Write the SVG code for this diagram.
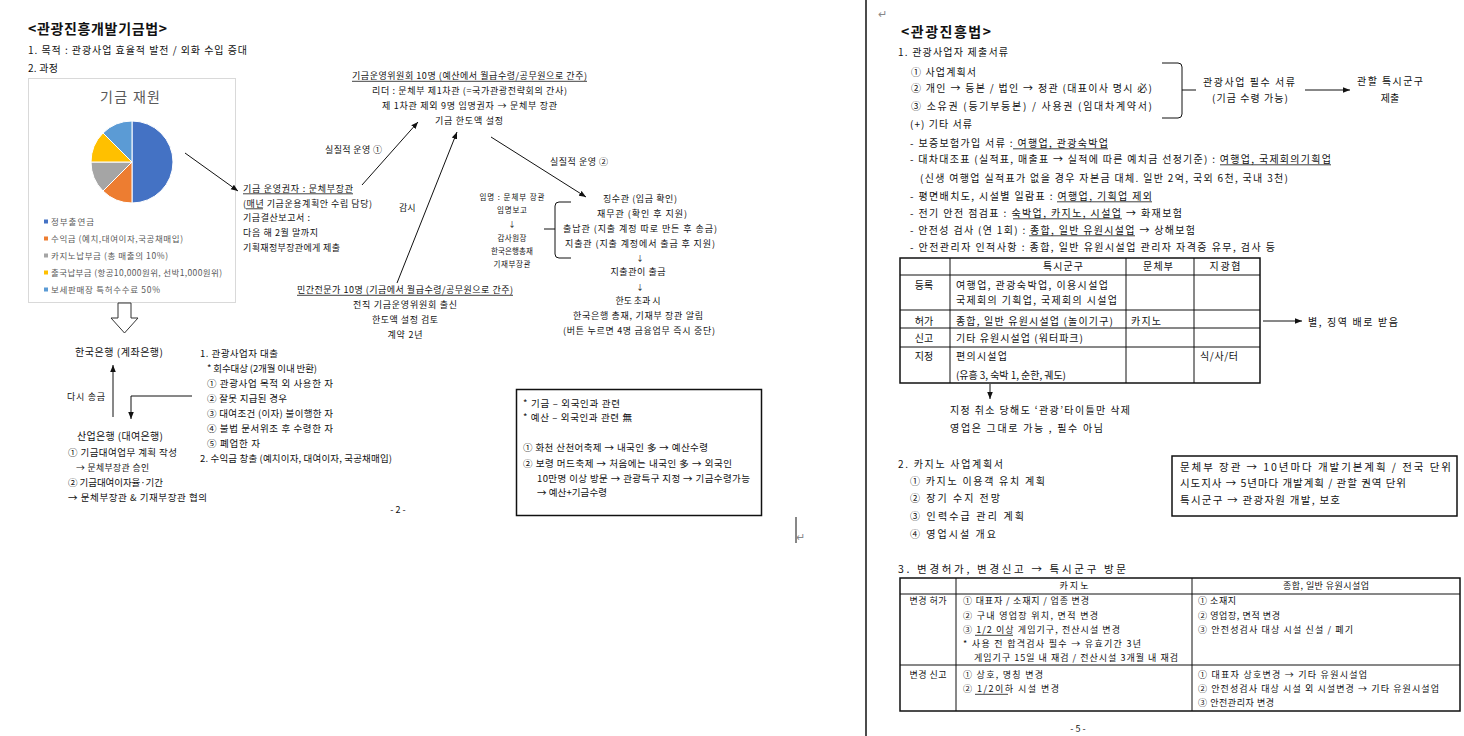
<svg xmlns="http://www.w3.org/2000/svg" width="1464" height="736" viewBox="0 0 1464 736">
<style>
text{font-family:"Noto Sans CJK KR","Noto Sans",sans-serif;fill:#111}
.h{font-size:14px;font-weight:bold}
.l{font-size:10px}
.b{font-size:9px}
.b2{font-size:9.5px}
.r{font-size:10px}
.sm{font-size:7.5px}
.lg{font-size:8.5px;fill:#595959}
.t3{font-size:9px}
.tb{font-size:10px}
.m{text-anchor:middle}
.ln{stroke:#111;stroke-width:1;fill:none}
.ul{stroke:#111;stroke-width:0.8;fill:none}
.bx{stroke:#111;stroke-width:1.5;fill:none}
.gray{fill:#888}
</style>
<defs>
<marker id="ah" viewBox="0 0 10 10" refX="10" refY="5" markerWidth="7" markerHeight="7" markerUnits="userSpaceOnUse" orient="auto"><path d="M0,1 L10,5 L0,9 z" fill="#111"/></marker>
</defs>
<rect width="1464" height="736" fill="#fff"/>
<line x1="866" y1="0" x2="866" y2="736" stroke="#111" stroke-width="1.5"/>

<!-- LEFT PAGE -->
<g id="left-header">
<text x="28" y="34" class="h" textLength="139">&lt;관광진흥개발기금법&gt;</text>
<text x="28" y="54" class="l" textLength="219">1. 목적 : 관광사업 효율적 발전 / 외화 수입 증대</text>
<text x="28" y="72" class="l" textLength="30">2. 과정</text>
</g>

<g id="chart">
<rect x="28.5" y="78.5" width="207" height="224" fill="#fff" stroke="#d9d9d9"/>
<text x="130" y="102" class="m" style="font-size:14px;fill:#595959" textLength="60">기금 재원</text>
<g stroke="#fff" stroke-width="1">
<path d="M132,162 L132,121 A41,41 0 0,1 132,203 Z" fill="#4472C4"/>
<path d="M132,162 L132,203 A41,41 0 0,1 103,191 Z" fill="#ED7D31"/>
<path d="M132,162 L103,191 A41,41 0 0,1 91,162 Z" fill="#A5A5A5"/>
<path d="M132,162 L91,162 A41,41 0 0,1 103,133 Z" fill="#FFC000"/>
<path d="M132,162 L103,133 A41,41 0 0,1 132,121 Z" fill="#5B9BD5"/>
</g>
<rect x="44" y="219.5" width="4" height="4" fill="#4472C4"/>
<text x="51" y="225" class="lg" textLength="43">정부출연금</text>
<rect x="44" y="236.5" width="4" height="4" fill="#ED7D31"/>
<text x="51" y="242" class="lg" textLength="132">수익금 (예치,대여이자,국공채매입)</text>
<rect x="44" y="253.5" width="4" height="4" fill="#A5A5A5"/>
<text x="51" y="259" class="lg" textLength="117">카지노납부금 (총 매출의 10%)</text>
<rect x="44" y="270.5" width="4" height="4" fill="#FFC000"/>
<text x="51" y="276" class="lg" textLength="171">출국납부금 (항공10,000원위, 선박1,000원위)</text>
<rect x="44" y="287.5" width="4" height="4" fill="#5B9BD5"/>
<text x="51" y="293" class="lg" textLength="109">보세판매장 특허수수료 50%</text>
</g>

<g id="owner">
<text x="243" y="191.5" class="b" textLength="110">기금 운영권자 : 문체부장관</text>
<text x="243" y="206.5" class="b" textLength="129">(매년 기금운용계획안 수립 담당)</text>
<text x="243" y="220.5" class="b" textLength="67">기금결산보고서 :</text>
<text x="243" y="235.5" class="b" textLength="75">다음 해 2월 말까지</text>
<text x="243" y="250.5" class="b" textLength="97">기획재정부장관에게 제출</text>
<path class="ul" d="M243,193.8 H353 M246,208.8 H263"/>
</g>

<g id="committee">
<text x="469.5" y="79" class="b m" textLength="235">기금운영위원회 10명 (예산에서 월급수령/공무원으로 간주)</text>
<text x="469.5" y="94" class="b m" textLength="195">리더 : 문체부 제1차관 (=국가관광전략회의 간사)</text>
<text x="469.5" y="109" class="b m" textLength="175">제 1차관 제외 9명 임명권자 → 문체부 장관</text>
<text x="469" y="124" class="b m" textLength="68">기금 한도액 설정</text>
<path class="ul" d="M352,81.3 H587"/>
</g>

<g id="experts">
<text x="405" y="293" class="b m" textLength="216">민간전문가 10명 (기금에서 월급수령/공무원으로 간주)</text>
<text x="405" y="308" class="b m" textLength="104">전직 기금운영위원회 출신</text>
<text x="405" y="323" class="b m" textLength="66">한도액 설정 검토</text>
<text x="405" y="338" class="b m" textLength="35">계약 2년</text>
<path class="ul" d="M297,295.3 H513"/>
</g>

<g id="appoint">
<text x="512" y="200" class="sm m" textLength="65">임명 : 문체부 장관</text>
<text x="512" y="213" class="sm m" textLength="30">임명보고</text>
<text x="512" y="227" class="sm m">↓</text>
<text x="512" y="241" class="sm m" textLength="29">감사원장</text>
<text x="512" y="254" class="sm m" textLength="42">한국은행총재</text>
<text x="512" y="267" class="sm m" textLength="37">기재부장관</text>
</g>

<g id="officers">
<text x="640" y="201.5" class="b m" textLength="74">징수관 (입금 확인)</text>
<text x="642" y="216.5" class="b m" textLength="90">재무관 (확인 후 지원)</text>
<text x="640" y="231.5" class="b m" textLength="154">출납관 (지출 계정 따로 만든 후 송금)</text>
<text x="640" y="246.5" class="b m" textLength="150">지출관 (지출 계정에서 출금 후 지원)</text>
<text x="640" y="261" class="sm m">↓</text>
<text x="638" y="275" class="b m" textLength="55">지출관이 출금</text>
<text x="640" y="290" class="sm m">↓</text>
<text x="638" y="304" class="b m" textLength="45">한도 초과 시</text>
<text x="638" y="319" class="b m" textLength="130">한국은행 총재, 기재부 장관 알림</text>
<text x="639" y="334" class="b m" textLength="152">(버튼 누르면 4명 금융업무 즉시 중단)</text>
</g>

<g id="labels-left">
<text x="325" y="153" class="b" textLength="57">실질적 운영 ①</text>
<text x="550" y="165" class="b" textLength="58">실질적 운영 ②</text>
<text x="399" y="211" class="b">감시</text>
</g>

<g id="banks">
<text x="75" y="356" style="font-size:10px" textLength="88">한국은행 (계좌은행)</text>
<text x="67" y="400" class="b" textLength="38">다시 송금</text>
<text x="77" y="440" style="font-size:10px" textLength="86">산업은행 (대여은행)</text>
<text x="68" y="456" class="b2" textLength="109">① 기금대여업무 계획 작성</text>
<text x="76" y="471" style="font-size:8.8px" textLength="73">→ 문체부장관 승인</text>
<text x="68" y="486" class="b2" textLength="95">② 기금대여이자율·기간</text>
<text x="68" y="501" class="b2" textLength="139">→ 문체부장관 &amp; 기재부장관 협의</text>
</g>

<g id="loans">
<text x="200" y="357" class="b2" textLength="78">1. 관광사업자 대출</text>
<text x="207" y="372" class="b2" textLength="110">* 회수대상 (2개월 이내 반환)</text>
<text x="207" y="387" class="b2" textLength="126">① 관광사업 목적 외 사용한 자</text>
<text x="207" y="402" class="b2" textLength="80">② 잘못 지급된 경우</text>
<text x="207" y="417" class="b2" textLength="126">③ 대여조건 (이자) 불이행한 자</text>
<text x="207" y="432" class="b2" textLength="126">④ 불법 문서위조 후 수령한 자</text>
<text x="207" y="447" class="b2" textLength="53">⑤ 폐업한 자</text>
<text x="200" y="462" class="b2" textLength="192">2. 수익금 창출 (예치이자, 대여이자, 국공채매입)</text>
</g>

<g id="note-box">
<rect x="516.5" y="389.5" width="245" height="126" class="bx"/>
<text x="523" y="406.5" class="b2" textLength="97">* 기금 – 외국인과 관련</text>
<text x="523" y="420.5" class="b2" textLength="109">* 예산 – 외국인과 관련 無</text>
<text x="523" y="450.5" class="b2" textLength="185">① 화천 산천어축제 → 내국인 多 → 예산수령</text>
<text x="523" y="466.5" class="b2" textLength="209">② 보령 머드축제 → 처음에는 내국인 多 → 외국인</text>
<text x="537" y="481.5" class="b2" textLength="213">10만명 이상 방문 → 관광특구 지정 → 기금수령가능</text>
<text x="537" y="495.5" class="b2" textLength="70">→ 예산+기금수령</text>
</g>

<g id="page-marks">
<text x="398" y="513" class="b m">- 2 -</text>
<line x1="796" y1="517" x2="796" y2="543" stroke="#111" stroke-width="1"/>
<text x="796" y="541" class="gray" style="font-size:11px">↵</text>
<text x="878" y="18" class="gray" style="font-size:11px">↵</text>
<text x="1078" y="732" class="b m">- 5 -</text>
</g>

<!-- RIGHT PAGE -->
<g id="right-header">
<text x="901" y="37" class="h" textLength="90">&lt;관광진흥법&gt;</text>
<text x="898" y="56" class="l" textLength="110">1. 관광사업자 제출서류</text>
<text x="911" y="76" class="r" textLength="65">① 사업계획서</text>
<text x="911" y="92" class="r" textLength="241">② 개인 → 등본 / 법인 → 정관 (대표이사 명시 必)</text>
<text x="911" y="110" class="r" textLength="241">③ 소유권 (등기부등본) / 사용권 (임대차계약서)</text>
<text x="910" y="128" class="r" textLength="62">(+) 기타 서류</text>
</g>

<g id="required-docs">
<text x="1249" y="86" class="r m" textLength="92">관광사업 필수 서류</text>
<text x="1250" y="102" class="r m" textLength="76">(기금 수령 가능)</text>
</g>
<g id="submit">
<text x="1390" y="85" class="r m" textLength="66">관할 특시군구</text>
<text x="1390" y="102" class="r m">제출</text>
</g>

<g id="doc-list">
<text x="910" y="146.5" class="r" textLength="198">- 보증보험가입 서류 : 여행업, 관광숙박업</text>
<text x="910" y="162.5" class="r" textLength="421">- 대차대조표 (실적표, 매출표 → 실적에 따른 예치금 선정기준) : 여행업, 국제회의기획업</text>
<text x="920" y="181.5" class="r" textLength="368">(신생 여행업 실적표가 없을 경우 자본금 대체. 일반 2억, 국외 6천, 국내 3천)</text>
<text x="910" y="199.5" class="r" textLength="242">- 평면배치도, 시설별 일람표 : 여행업, 기획업 제외</text>
<text x="910" y="216.5" class="r" textLength="272">- 전기 안전 점검표 : 숙박업, 카지노, 시설업 → 화재보험</text>
<text x="910" y="233.5" class="r" textLength="285">- 안전성 검사 (연 1회) : 종합, 일반 유원시설업 → 상해보험</text>
<text x="910" y="250.5" class="r" textLength="365">- 안전관리자 인적사항 : 종합, 일반 유원시설업 관리자 자격증 유무, 검사 등</text>
<path class="ul" d="M1013,148.8 H1108 M1220,164.8 H1331 M1057,201.8 H1152 M1013,218.8 H1122 M1029,235.8 H1135"/>
</g>

<g id="table-registration">
<rect x="900" y="258" width="360" height="125" class="bx"/>
<g class="ln">
<line x1="950" y1="258" x2="950" y2="383"/>
<line x1="1126" y1="258" x2="1126" y2="383"/>
<line x1="1194" y1="258" x2="1194" y2="383"/>
<line x1="900" y1="275" x2="1260" y2="275"/>
<line x1="900" y1="310" x2="1260" y2="310"/>
<line x1="900" y1="328" x2="1260" y2="328"/>
<line x1="900" y1="347" x2="1260" y2="347"/>
</g>
<text x="1063" y="269.5" class="tb m" textLength="40">특시군구</text>
<text x="1158" y="269.5" class="tb m" textLength="30">문체부</text>
<text x="1225" y="269.5" class="tb m" textLength="31">지광협</text>
<text x="924" y="288.5" class="tb m">등록</text>
<text x="956" y="288.5" class="tb" textLength="152">여행업, 관광숙박업, 이용시설업</text>
<text x="956" y="303.5" class="tb" textLength="161">국제회의 기획업, 국제회의 시설업</text>
<text x="924" y="325" class="tb m">허가</text>
<text x="956" y="325" class="tb" textLength="157">종합, 일반 유원시설업 (놀이기구)</text>
<text x="1131" y="325" class="tb" textLength="30">카지노</text>
<text x="924" y="341.5" class="tb m">신고</text>
<text x="956" y="341.5" class="tb" textLength="127">기타 유원시설업 (워터파크)</text>
<text x="924" y="360" class="tb m">지정</text>
<text x="956" y="360" class="tb" textLength="51">편의시설업</text>
<text x="956" y="379" class="tb" textLength="110">(유흥 3, 숙박 1, 순한, 궤도)</text>
<text x="1200" y="360" class="tb" textLength="38">식/사/터</text>
</g>

<g id="penalty">
<text x="1308" y="325.5" class="tb" textLength="90">별, 징역 배로 받음</text>
</g>
<g id="designation-note">
<text x="950" y="414" class="tb" textLength="180">지정 취소 당해도 ‘관광’타이틀만 삭제</text>
<text x="950" y="431.5" class="tb" textLength="153">영업은 그대로 가능 , 필수 아님</text>
</g>

<g id="casino-plan">
<text x="898" y="468" class="l" textLength="105">2. 카지노 사업계획서</text>
<text x="910" y="485" class="r" textLength="135">① 카지노 이용객 유치 계획</text>
<text x="910" y="502" class="r" textLength="90">② 장기 수지 전망</text>
<text x="910" y="520" class="r" textLength="114">③ 인력수급 관리 계획</text>
<text x="910" y="538" class="r" textLength="86">④ 영업시설 개요</text>
</g>

<g id="plan-box">
<rect x="1172" y="456" width="285" height="60" class="bx"/>
<text x="1180" y="470.5" style="font-size:10.5px" textLength="271">문체부 장관 → 10년마다 개발기본계획 / 전국 단위</text>
<text x="1180" y="486.5" style="font-size:10.5px" textLength="226">시도지사 → 5년마다 개발계획 / 관할 권역 단위</text>
<text x="1180" y="503.5" style="font-size:10.5px" textLength="160">특시군구 → 관광자원 개발, 보호</text>
</g>

<g id="changes">
<text x="898" y="573" style="font-size:10.5px" textLength="228">3. 변경허가, 변경신고 → 특시군구 방문</text>
<rect x="900" y="578" width="560" height="133" class="bx"/>
<g class="ln">
<line x1="956" y1="578" x2="956" y2="711"/>
<line x1="1192" y1="578" x2="1192" y2="711"/>
<line x1="900" y1="594" x2="1460" y2="594"/>
<line x1="900" y1="665" x2="1460" y2="665"/>
</g>
<text x="1074" y="589" class="t3 m" textLength="29">카지노</text>
<text x="1326" y="589" class="t3 m" textLength="86">종합, 일반 유원시설업</text>
<text x="928" y="604" class="t3 m" textLength="37">변경 허가</text>
<text x="963" y="604" class="t3" textLength="126">① 대표자 / 소재지 / 업종 변경</text>
<text x="963" y="619" class="t3" textLength="135">② 구내 영업장 위치, 면적 변경</text>
<text x="963" y="633" class="t3" textLength="157">③ 1/2 이상 게임기구, 전산시설 변경</text>
<text x="963" y="647" class="t3" textLength="178">* 사용 전 합격검사 필수 → 유효기간 3년</text>
<text x="974" y="661" class="t3" textLength="204">게임기구 15일 내 재검 / 전산시설 3개월 내 재검</text>
<text x="1198" y="604" class="t3" textLength="38">① 소재지</text>
<text x="1198" y="619" class="t3" textLength="82">② 영업장, 면적 변경</text>
<text x="1198" y="633" class="t3" textLength="155">③ 안전성검사 대상 시설 신설 / 폐기</text>
<text x="928" y="678" class="t3 m" textLength="37">변경 신고</text>
<text x="963" y="678" class="t3" textLength="80">① 상호, 명칭 변경</text>
<text x="963" y="692" class="t3" textLength="96">② 1/2이하 시설 변경</text>
<text x="1198" y="678" class="t3" textLength="169">① 대표자 상호변경 → 기타 유원시설업</text>
<text x="1198" y="692" class="t3" textLength="241">② 안전성검사 대상 시설 외 시설변경 → 기타 유원시설업</text>
<text x="1198" y="706" class="t3" textLength="76">③ 안전관리자 변경</text>
<path class="ul" d="M975,635.3 H1013 M975,694.3 H1008"/>
</g>

<g id="connectors" class="ln">
<path d="M185,153 L238,191" marker-end="url(#ah)"/>
<path d="M362,185 L418,122" marker-end="url(#ah)"/>
<path d="M397,283 L457,132" marker-end="url(#ah)"/>
<path d="M491,137 L586,197" marker-end="url(#ah)"/>
<path d="M571,202 L559,202 Q555,202 555,206 L555,254 Q555,258 559,258 L571,258 M555,229 L544,229"/>
<polygon points="118,303 131,303 131,318 138,318 124.5,333 111,318 118,318" fill="#fff" stroke="#333"/>
<path d="M113,417 L113,365" marker-end="url(#ah)"/>
<path d="M192,396 L131,396 L131,419" marker-end="url(#ah)"/>
<path d="M1162,63 L1178,63 Q1182,63 1182,67 L1182,114 Q1182,118 1178,118 L1162,118 M1182,90 L1196,90"/>
<path d="M1305,90 L1350,90" marker-end="url(#ah)"/>
<path d="M1263,321 L1302,321" marker-end="url(#ah)"/>
<path d="M990,384 L990,399" marker-end="url(#ah)"/>
</g>
</svg>
